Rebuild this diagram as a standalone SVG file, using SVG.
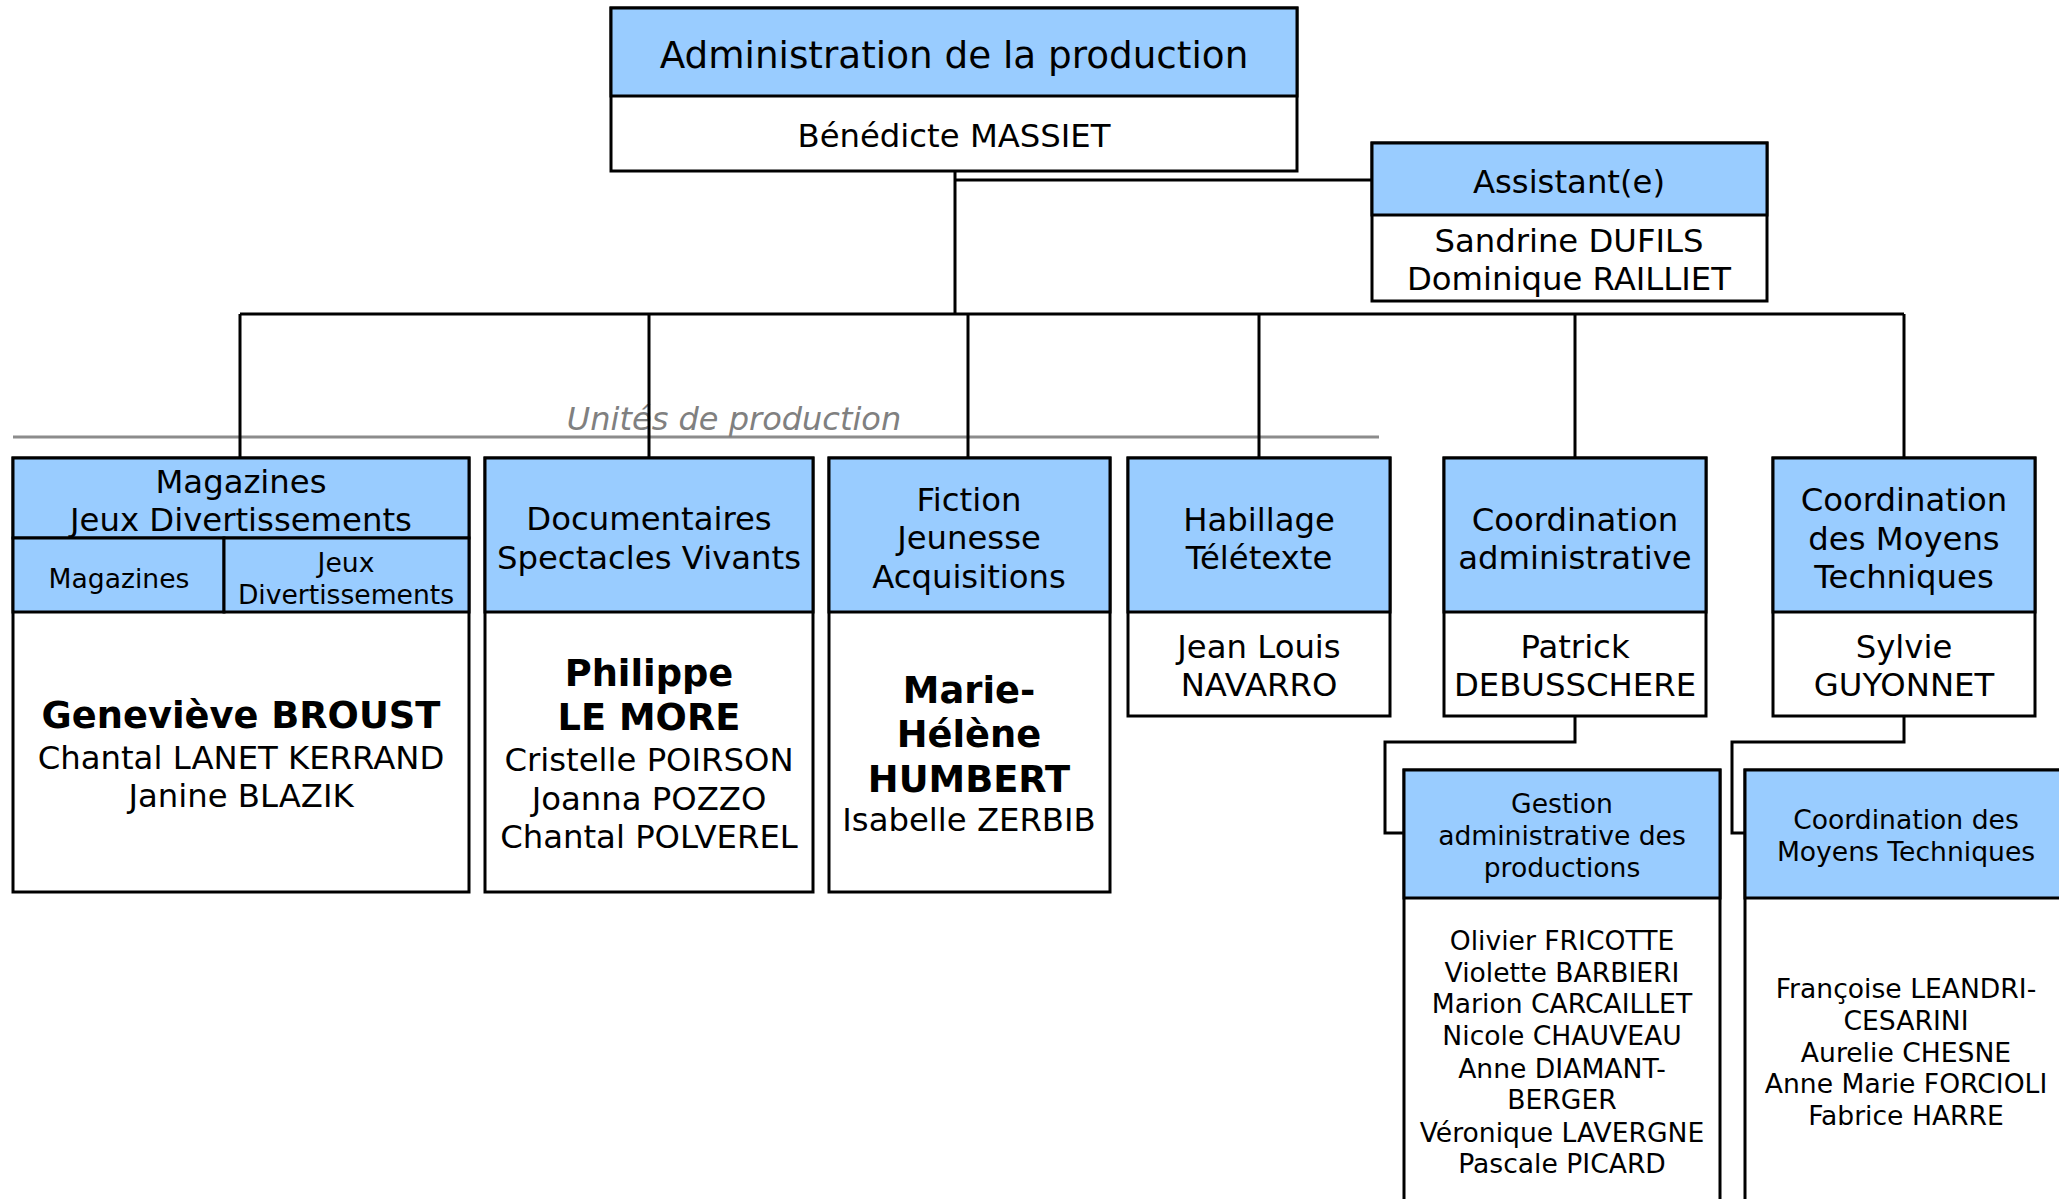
<svg xmlns="http://www.w3.org/2000/svg" width="2059" height="1199" viewBox="0 0 2059 1199">
<style>
.hd{fill:#99CCFF;stroke:#000;stroke-width:3}
.bd{fill:#fff;stroke:#000;stroke-width:3}
.ln{fill:none;stroke:#000;stroke-width:3}
text{font-family:"DejaVu Sans",Verdana,sans-serif;text-anchor:middle;fill:#000}
.t37{font-size:37.3px}
.t32{font-size:32.3px}
.t26{font-size:26.6px}
.b36{font-size:36.8px;font-weight:bold}
.sep{fill:none;stroke:#8c8c8c;stroke-width:3}
.lbl{font-size:32px;font-style:italic;fill:#808080}
</style>
<rect width="2059" height="1199" fill="#fff"/>
<path class="sep" d="M13 437H1379"/>
<text class="lbl" x="734" y="430">Unités de production</text>
<g id="connectors">
<path class="ln" d="M955 171V314M955 180H1372M240 314H1904"/>
<path class="ln" d="M240 314V458M649 314V458M968 314V458M1259 314V458M1575 314V458M1904 314V458"/>
<path class="ln" d="M1575 716V742H1385V833H1404"/>
<path class="ln" d="M1904 716V742H1732V833H1745"/>
</g>
<g id="admin">
<rect class="bd" x="611" y="8" width="686" height="163"/>
<rect class="hd" x="611" y="8" width="686" height="88"/>
<text class="t37" x="954" y="68">Administration de la production</text>
<text class="t32" x="954" y="147">Bénédicte MASSIET</text>
</g>
<g id="assistant">
<rect class="bd" x="1372" y="143" width="395" height="158"/>
<rect class="hd" x="1372" y="143" width="395" height="72"/>
<text class="t32" x="1569" y="193">Assistant(e)</text>
<text class="t32" x="1569" y="252">Sandrine DUFILS</text>
<text class="t32" x="1569" y="290">Dominique RAILLIET</text>
</g>
<g id="magazines">
<rect class="bd" x="13" y="458" width="456" height="434"/>
<rect class="hd" x="13" y="458" width="456" height="80"/>
<rect class="hd" x="13" y="538" width="211" height="74"/>
<rect class="hd" x="224" y="538" width="245" height="74"/>
<text class="t32" x="241" y="493">Magazines</text>
<text class="t32" x="241" y="531">Jeux Divertissements</text>
<text class="t26" x="119" y="588">Magazines</text>
<text class="t26" x="346" y="572">Jeux</text>
<text class="t26" x="346" y="604">Divertissements</text>
<text class="b36" x="241" y="728">Geneviève BROUST</text>
<text class="t32" x="241" y="769">Chantal LANET KERRAND</text>
<text class="t32" x="241" y="807">Janine BLAZIK</text>
</g>
<g id="documentaires">
<rect class="bd" x="485" y="458" width="328" height="434"/>
<rect class="hd" x="485" y="458" width="328" height="154"/>
<text class="t32" x="649" y="530">Documentaires</text>
<text class="t32" x="649" y="569">Spectacles Vivants</text>
<text class="b36" x="649" y="686">Philippe</text>
<text class="b36" x="649" y="730">LE MORE</text>
<text class="t32" x="649" y="771">Cristelle POIRSON</text>
<text class="t32" x="649" y="810">Joanna POZZO</text>
<text class="t32" x="649" y="848">Chantal POLVEREL</text>
</g>
<g id="fiction">
<rect class="bd" x="829" y="458" width="281" height="434"/>
<rect class="hd" x="829" y="458" width="281" height="154"/>
<text class="t32" x="969" y="511">Fiction</text>
<text class="t32" x="969" y="549">Jeunesse</text>
<text class="t32" x="969" y="588">Acquisitions</text>
<text class="b36" x="969" y="703">Marie-</text>
<text class="b36" x="969" y="747">Hélène</text>
<text class="b36" x="969" y="792">HUMBERT</text>
<text class="t32" x="969" y="831">Isabelle ZERBIB</text>
</g>
<g id="habillage">
<rect class="bd" x="1128" y="458" width="262" height="258"/>
<rect class="hd" x="1128" y="458" width="262" height="154"/>
<text class="t32" x="1259" y="531">Habillage</text>
<text class="t32" x="1259" y="569">Télétexte</text>
<text class="t32" x="1259" y="658">Jean Louis</text>
<text class="t32" x="1259" y="696">NAVARRO</text>
</g>
<g id="coord-admin">
<rect class="bd" x="1444" y="458" width="262" height="258"/>
<rect class="hd" x="1444" y="458" width="262" height="154"/>
<text class="t32" x="1575" y="531">Coordination</text>
<text class="t32" x="1575" y="569">administrative</text>
<text class="t32" x="1575" y="658">Patrick</text>
<text class="t32" x="1575" y="696">DEBUSSCHERE</text>
</g>
<g id="coord-moyens">
<rect class="bd" x="1773" y="458" width="262" height="258"/>
<rect class="hd" x="1773" y="458" width="262" height="154"/>
<text class="t32" x="1904" y="511">Coordination</text>
<text class="t32" x="1904" y="550">des Moyens</text>
<text class="t32" x="1904" y="588">Techniques</text>
<text class="t32" x="1904" y="658">Sylvie</text>
<text class="t32" x="1904" y="696">GUYONNET</text>
</g>
<g id="gestion">
<rect class="bd" x="1404" y="770" width="316" height="450"/>
<rect class="hd" x="1404" y="770" width="316" height="128"/>
<text class="t26" x="1562" y="813">Gestion</text>
<text class="t26" x="1562" y="845">administrative des</text>
<text class="t26" x="1562" y="877">productions</text>
<text class="t26" x="1562" y="950">Olivier FRICOTTE</text>
<text class="t26" x="1562" y="982">Violette BARBIERI</text>
<text class="t26" x="1562" y="1013">Marion CARCAILLET</text>
<text class="t26" x="1562" y="1045">Nicole CHAUVEAU</text>
<text class="t26" x="1562" y="1078">Anne DIAMANT-</text>
<text class="t26" x="1562" y="1109">BERGER</text>
<text class="t26" x="1562" y="1142">Véronique LAVERGNE</text>
<text class="t26" x="1562" y="1173">Pascale PICARD</text>
</g>
<g id="coord-moyens-sub">
<rect class="bd" x="1745" y="770" width="322" height="450"/>
<rect class="hd" x="1745" y="770" width="322" height="128"/>
<text class="t26" x="1906" y="829">Coordination des</text>
<text class="t26" x="1906" y="861">Moyens Techniques</text>
<text class="t26" x="1906" y="998">Françoise LEANDRI-</text>
<text class="t26" x="1906" y="1030">CESARINI</text>
<text class="t26" x="1906" y="1062">Aurelie CHESNE</text>
<text class="t26" x="1906" y="1093">Anne Marie FORCIOLI</text>
<text class="t26" x="1906" y="1125">Fabrice HARRE</text>
</g>
</svg>
